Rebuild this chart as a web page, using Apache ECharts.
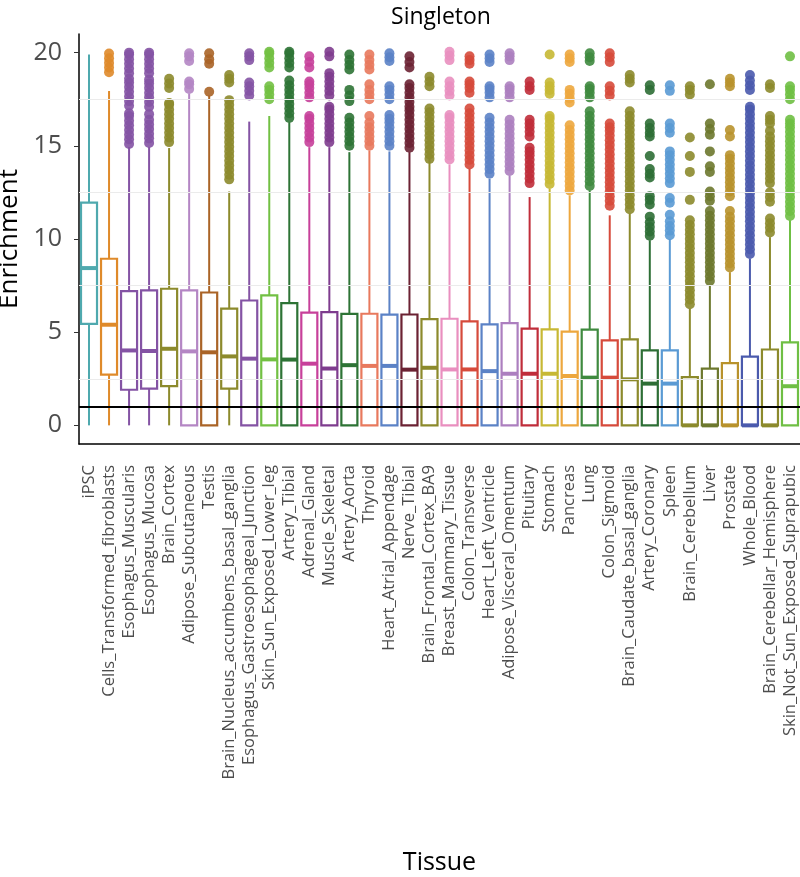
<!DOCTYPE html>
<html>
<head>
<meta charset="utf-8">
<title>Singleton</title>
<script src="https://cdn.jsdelivr.net/npm/echarts@6/dist/echarts.min.js"></script>
<style>
html, body { margin: 0; padding: 0; background: #fff; }
#main { width: 800px; height: 877px; }
</style>
</head>
<body>
<div id="main"></div>
<script>
var tissues = ['iPSC','Cells_Transformed_fibroblasts','Esophagus_Muscularis','Esophagus_Mucosa','Brain_Cortex',
    'Adipose_Subcutaneous','Testis','Brain_Nucleus_accumbens_basal_ganglia','Esophagus_Gastroesophageal_Junction',
    'Skin_Sun_Exposed_Lower_leg','Artery_Tibial','Adrenal_Gland','Muscle_Skeletal','Artery_Aorta','Thyroid',
    'Heart_Atrial_Appendage','Nerve_Tibial','Brain_Frontal_Cortex_BA9','Breast_Mammary_Tissue','Colon_Transverse',
    'Heart_Left_Ventricle','Adipose_Visceral_Omentum','Pituitary','Stomach','Pancreas','Lung','Colon_Sigmoid',
    'Brain_Caudate_basal_ganglia','Artery_Coronary','Spleen','Brain_Cerebellum','Liver','Prostate','Whole_Blood',
    'Brain_Cerebellar_Hemisphere','Skin_Not_Sun_Exposed_Suprapubic'];

var colors = ['#4fa9ae','#df8a2a','#8453a4','#8453a4','#8c8a2c','#b486c4','#aa6427','#8c8a2c','#8453a4',
    '#72c043','#2d7335','#c7409a','#7e3c8e','#2d7335','#e8795d','#5b82c6','#6b2233','#8c8a2c','#e98fbf',
    '#d64a3b','#5b82c6','#ac7fbf','#c02d3a','#c7b834','#eda73e','#3f8a3f','#d64a3b','#8c8a2c','#2d6e35',
    '#5a9ad4','#8c8a2c','#6d782e','#b8922c','#4a5aad','#8c8a2c','#6fbf44'];

// [lower whisker, Q1, median, Q3, upper whisker]
var boxStats = [
    [0,5.45,8.44,11.95,19.9],[0,2.72,5.4,8.94,17.94],[0,1.91,4.02,7.2,14.93],[0,1.97,3.99,7.24,14.93],
    [0,2.11,4.11,7.33,14.88],[0,0,3.97,7.24,17.8],[0,0,3.92,7.13,17.7],[0,1.97,3.7,6.26,12.55],
    [0,0,3.58,6.7,16.3],[0,0,3.54,6.98,16.6],[0,0,3.53,6.56,16.27],[0,0,3.31,6.05,14.93],
    [0,0,3.05,6.08,14.93],[0,0,3.23,5.98,14.66],[0,0,3.19,5.99,14.75],[0,0,3.19,5.94,14.7],
    [0,0,2.99,5.95,14.66],[0,0,3.09,5.7,14.3],[0,0,3.0,5.72,14.0],[0,0,3.0,5.58,13.77],
    [0,0,2.91,5.42,13.23],[0,0,2.77,5.49,13.4],[0,0,2.77,5.19,12.25],[0,0,2.77,5.15,12.7],
    [0,0,2.65,5.03,12.34],[0,0,2.56,5.14,12.6],[0,0,2.56,4.56,11.27],[0,0,2.47,4.61,11.36],
    [0,0,2.24,4.02,9.93],[0,0,2.24,4.02,10.0],[0,0,0,2.59,6.26],[0,0,0,3.04,7.5],
    [0,0,0,3.34,8.22],[0,0,0,3.69,8.94],[0,0,0,4.07,10.1],[0,0,2.1,4.45,11.0]
];

var outliers = [
    [],
    [18.95,19.2,19.45,19.7,19.95],
    [15.1,15.35,15.6,15.85,16.1,16.35,16.6,16.75,17.15,17.4,17.65,17.9,18.15,18.4,18.6,18.9,19.15,19.4,19.65,19.9,20.0],
    [15.15,15.4,15.65,15.9,16.15,16.4,16.7,17.1,17.35,17.6,17.85,18.1,18.35,18.55,18.9,19.15,19.4,19.65,19.9,20.0],
    [15.2,15.45,15.7,15.95,16.2,16.45,16.7,16.95,17.2,17.3,18.1,18.35,18.6],
    [18.05,18.3,18.45,19.55,19.8,19.97],
    [17.9,19.4,19.65,19.97],
    [13.2,13.45,13.7,13.95,14.2,14.45,14.7,14.95,15.2,15.45,15.7,15.95,16.2,16.45,16.7,16.95,17.2,17.45,18.4,18.6,18.8],
    [17.7,17.95,18.2,18.4,19.6,19.8,19.97],
    [17.5,17.75,18.0,18.2,19.2,19.45,19.7,19.95,20.05],
    [16.5,16.75,17.0,17.25,17.5,17.75,18.0,18.25,18.5,19.2,19.45,19.7,19.95,20.05],
    [15.2,15.45,15.7,15.95,16.2,16.45,16.6,17.6,17.85,18.1,18.3,18.45,19.2,19.5,19.8],
    [15.2,15.45,15.7,15.95,16.2,16.45,16.7,16.95,17.1,17.7,17.95,18.2,18.45,18.7,18.9,19.8,20.05],
    [15.0,15.25,15.5,15.75,16.0,16.25,16.5,17.4,17.7,18.0,19.1,19.35,19.6,19.9],
    [15.0,15.25,15.5,15.75,16.0,16.25,16.6,17.5,17.75,18.0,18.3,19.1,19.35,19.6,19.9],
    [15.0,15.25,15.5,15.75,16.0,16.25,16.45,16.65,17.5,17.75,18.0,18.2,19.55,19.75,19.97],
    [14.9,15.15,15.4,15.65,15.9,16.15,16.4,16.65,16.9,17.1,17.35,17.6,17.85,18.1,18.3,19.2,19.5,19.8],
    [14.3,14.55,14.8,15.05,15.3,15.55,15.8,16.05,16.3,16.55,16.8,17.0,18.2,18.45,18.7],
    [14.27,14.5,14.75,15.0,15.25,15.5,15.75,16.0,16.25,16.5,16.65,17.7,17.95,18.2,18.45,19.6,19.85,20.05],
    [14.0,14.25,14.5,14.75,15.0,15.25,15.5,15.75,16.0,16.25,16.5,16.75,17.0,17.85,18.1,18.3,18.45,19.4,19.6,19.8],
    [13.5,13.75,14.0,14.25,14.5,14.75,15.0,15.25,15.5,15.75,16.0,16.25,16.5,17.6,17.85,18.05,18.2,19.5,19.7,19.9],
    [13.65,13.9,14.15,14.4,14.65,14.9,15.15,15.4,15.65,15.9,16.15,16.4,17.6,17.85,18.05,18.2,19.6,19.8,19.97],
    [13.0,13.25,13.5,13.75,14.0,14.25,14.5,14.7,14.9,15.5,15.75,16.0,16.2,16.4,18.0,18.2,18.45],
    [12.95,13.2,13.45,13.7,13.95,14.2,14.45,14.7,14.95,15.2,15.45,15.7,15.95,16.2,16.45,16.6,17.8,18.0,18.2,18.4,19.9],
    [12.6,12.85,13.1,13.35,13.6,13.85,14.1,14.35,14.6,14.85,15.1,15.35,15.6,15.85,16.1,17.33,17.55,17.8,18.0,19.5,19.7,19.9],
    [12.85,13.1,13.35,13.6,13.85,14.1,14.35,14.6,14.85,15.1,15.35,15.6,15.85,16.1,16.35,16.6,16.85,17.6,17.85,18.05,18.2,19.55,19.75,19.97],
    [11.78,12.05,12.3,12.55,12.8,13.05,13.3,13.55,13.8,14.05,14.3,14.55,14.8,15.05,15.3,15.55,15.8,16.0,16.2,17.7,17.95,18.2,19.5,19.75,19.97],
    [11.6,11.85,12.1,12.35,12.6,12.85,13.1,13.35,13.6,13.85,14.1,14.35,14.6,14.85,15.1,15.35,15.6,15.85,16.1,16.35,16.6,16.85,18.4,18.6,18.8],
    [10.17,10.4,10.65,10.9,11.2,11.85,12.1,12.3,13.3,13.5,13.75,14.45,15.5,15.7,15.95,16.2,18.0,18.25],
    [10.2,10.45,10.7,10.95,11.3,11.95,12.2,13.0,13.25,13.5,13.75,14.0,14.25,14.5,14.7,15.7,15.95,16.2,17.95,18.25],
    [6.5,6.75,7.0,7.25,7.5,7.75,8.0,8.25,8.5,8.75,9.0,9.25,9.5,9.75,10.0,10.25,10.5,10.75,11.0,12.1,13.6,14.45,15.45,17.75,18.0,18.2],
    [7.75,8.0,8.25,8.5,8.75,9.0,9.25,9.5,9.75,10.0,10.25,10.5,10.75,11.0,11.25,11.5,12.05,12.3,12.55,13.6,13.9,14.7,15.6,15.9,16.2,18.3],
    [8.47,8.7,8.95,9.2,9.45,9.7,9.95,10.2,10.45,10.7,10.95,11.2,11.5,12.3,12.55,12.8,13.05,13.3,13.55,13.8,14.05,14.3,14.5,15.5,15.85,18.2,18.4,18.6],
    [9.2,9.45,9.7,9.95,10.2,10.45,10.7,10.95,11.2,11.45,11.7,11.95,12.2,12.45,12.7,12.95,13.2,13.45,13.7,13.95,14.2,14.45,14.7,14.95,15.2,15.45,15.7,15.95,16.2,16.45,16.7,16.95,17.1,18.0,18.25,18.5,18.8],
    [10.35,10.6,10.85,11.1,12.0,12.25,12.5,13.0,13.25,13.5,13.75,14.0,14.25,14.5,14.75,15.0,15.25,15.5,15.8,16.2,16.4,16.6,18.1,18.3],
    [11.24,11.5,11.75,12.0,12.25,12.5,12.75,13.0,13.25,13.5,13.75,14.0,14.25,14.5,14.75,15.0,15.25,15.5,15.75,16.0,16.2,16.4,17.5,17.75,18.0,18.2,19.8]
];

var yTicks = [0, 5, 10, 15, 20];
var yMinor = [2.5, 7.5, 12.5, 17.5];
var refLine = 1;

var FONT = '"Open Sans", "Noto Sans", sans-serif';

function boxData(){
    var out = [];
    for(var i = 0; i < boxStats.length; i++){
        out.push([i].concat(boxStats[i]));
    }
    return out;
}

function outlierData(){
    var out = [];
    for(var i = 0; i < outliers.length; i++){
        for(var j = 0; j < outliers[i].length; j++){
            out.push({ value: [i, outliers[i][j]], itemStyle: { color: colors[i] } });
        }
    }
    return out;
}

//box + whiskers + thick median, ggplot style
function renderBox(params, api){
    var idx = api.value(0);
    var c = colors[params.dataIndex];
    var half = api.size([1, 0])[0] * 0.4;
    var pLow = api.coord([idx, api.value(1)]);
    var pQ1 = api.coord([idx, api.value(2)]);
    var pMed = api.coord([idx, api.value(3)]);
    var pQ3 = api.coord([idx, api.value(4)]);
    var pHigh = api.coord([idx, api.value(5)]);
    var x = pMed[0];
    return {
        type: 'group',
        children: [
            { type: 'line', shape: { x1: x, y1: pLow[1], x2: x, y2: pQ1[1] }, style: { stroke: c, lineWidth: 2 } },
            { type: 'line', shape: { x1: x, y1: pQ3[1], x2: x, y2: pHigh[1] }, style: { stroke: c, lineWidth: 2 } },
            { type: 'rect', shape: { x: x - half, y: pQ3[1], width: half * 2, height: pQ1[1] - pQ3[1] },
              style: { fill: '#fff', stroke: c, lineWidth: 2.2 } },
            { type: 'line', shape: { x1: x - half, y1: pMed[1], x2: x + half, y2: pMed[1] }, style: { stroke: c, lineWidth: 4 } }
        ]
    };
}

var gridLines = [];
for(var g = 0; g < yMinor.length; g++){
    gridLines.push({ yAxis: yMinor[g] });
}

var option = {
    animation: false,
    backgroundColor: '#fff',
    title: {
        text: 'Singleton', left: 436, top: 1, textAlign: 'center',
        textStyle: { fontFamily: FONT, fontSize: 23, fontWeight: 'normal', color: '#000' }
    },
    grid: { left: 79, right: 0, top: 34, height: 410, containLabel: false, outerBoundsMode: 'none' },
    xAxis: {
        type: 'category',
        data: tissues,
        name: 'Tissue', nameLocation: 'middle', nameGap: 406,
        nameTextStyle: { fontFamily: FONT, fontSize: 25, color: '#000' },
        axisLine: { onZero: false, lineStyle: { color: '#000', width: 1.5 } },
        axisTick: { alignWithLabel: true, length: 4, lineStyle: { color: '#333' } },
        axisLabel: { rotate: 90, interval: 0, margin: 21, fontFamily: FONT, fontSize: 16.5, color: '#4d4d4d' },
        splitLine: { show: false }
    },
    yAxis: {
        type: 'value', min: -1, max: 21,
        name: 'Enrichment', nameLocation: 'middle', nameGap: 50, nameRotate: 90,
        nameTextStyle: { fontFamily: FONT, fontSize: 26, color: '#000' },
        axisLine: { show: true, lineStyle: { color: '#000', width: 1.5 } },
        axisTick: { show: true, length: 5, customValues: yTicks, lineStyle: { color: '#333' } },
        axisLabel: { customValues: yTicks, margin: 17, fontFamily: FONT, fontSize: 25, color: '#4d4d4d' },
        splitLine: { show: false }
    },
    series: [
        {
            type: 'line', data: [], silent: true, z: 1,
            markLine: {
                silent: true, symbol: 'none', label: { show: false },
                lineStyle: { color: '#ebebeb', width: 1, type: 'solid' },
                data: gridLines
            }
        },
        {
            type: 'scatter', data: outlierData(), symbolSize: 10, z: 2,
            itemStyle: { opacity: 0.9 }
        },
        {
            type: 'custom', renderItem: renderBox, data: boxData(), z: 3,
            encode: { x: 0, y: [1, 2, 3, 4, 5] }
        },
        {
            type: 'line', data: [], silent: true, z: 4,
            markLine: {
                silent: true, symbol: 'none', label: { show: false },
                lineStyle: { color: '#000', width: 2, type: 'solid' },
                data: [{ yAxis: refLine }]
            }
        }
    ]
};

var chart = echarts.init(document.getElementById('main'));
chart.setOption(option);
</script>
</body>
</html>
